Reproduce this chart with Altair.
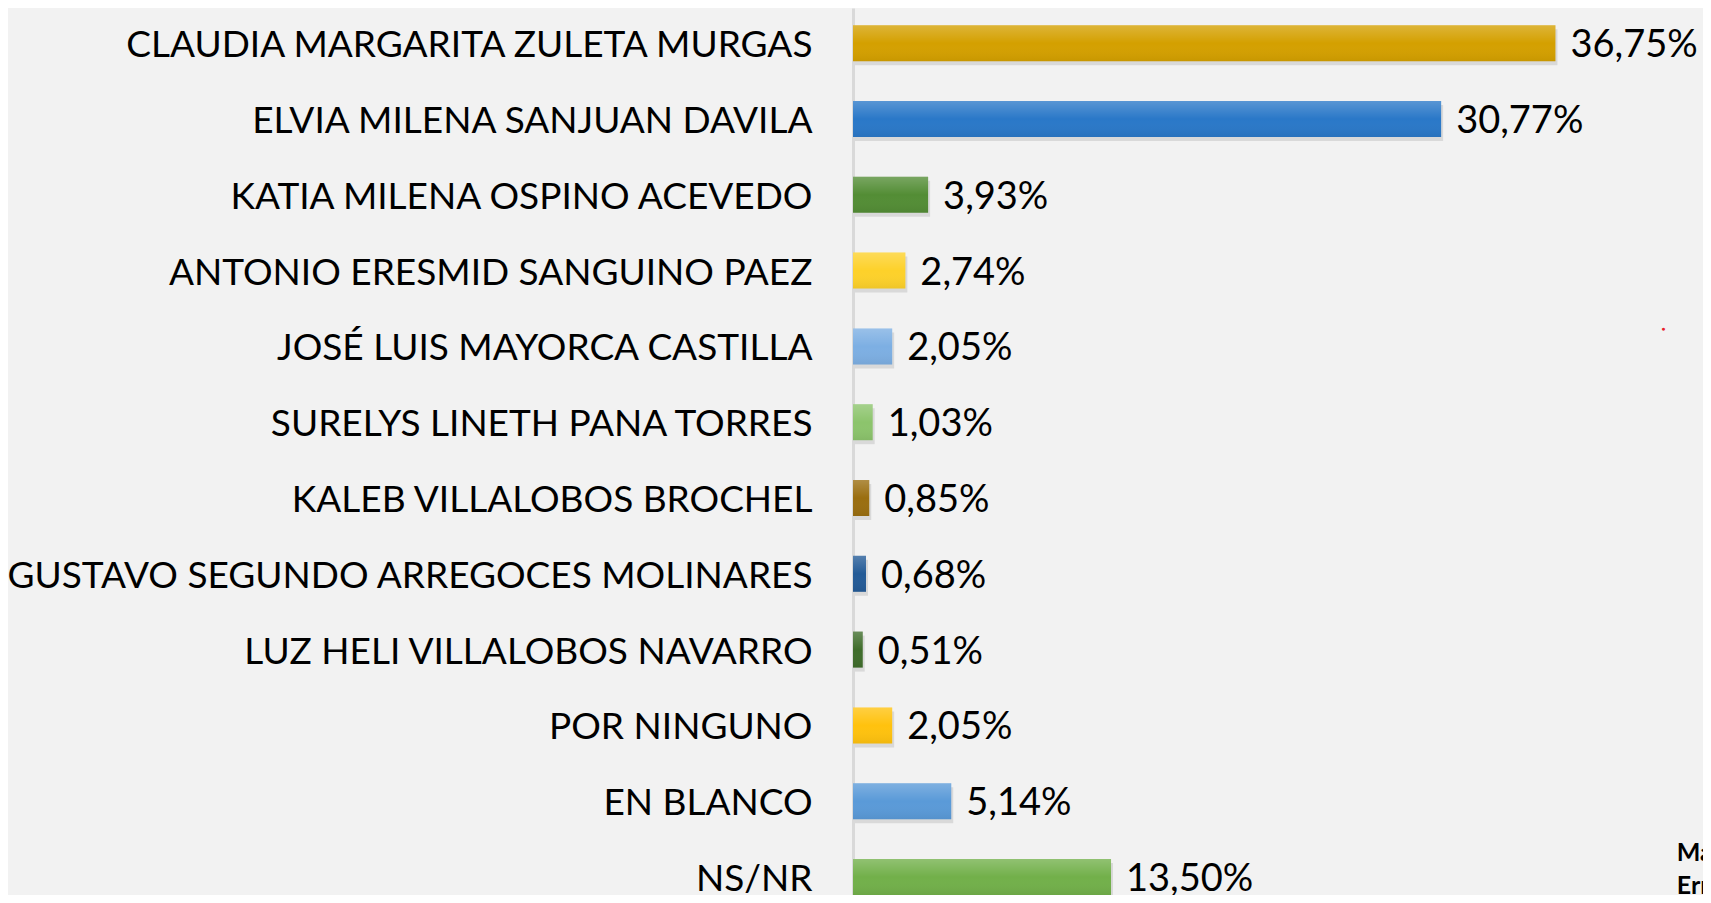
import altair as alt
import pandas as pd

candidates = [
    "CLAUDIA MARGARITA ZULETA MURGAS",
    "ELVIA MILENA SANJUAN DAVILA",
    "KATIA MILENA OSPINO ACEVEDO",
    "ANTONIO ERESMID SANGUINO PAEZ",
    "JOSÉ LUIS MAYORCA CASTILLA",
    "SURELYS LINETH PANA TORRES",
    "KALEB VILLALOBOS BROCHEL",
    "GUSTAVO SEGUNDO ARREGOCES MOLINARES",
    "LUZ HELI VILLALOBOS NAVARRO",
    "POR NINGUNO",
    "EN BLANCO",
    "NS/NR",
]
values = [36.75, 30.77, 3.93, 2.74, 2.05, 1.03, 0.85, 0.68, 0.51, 2.05, 5.14, 13.50]
colors = [
    "#D4A000", "#2A78C8", "#538D35", "#FDD12A", "#7DAFE3", "#8CC46C",
    "#9A6E10", "#245B97", "#3F6D2B", "#FFC20E", "#5A9AD8", "#72B04A",
]
note_lines = ["Margen de error", "Error estándar"]

df = pd.DataFrame({"candidato": candidates, "pct": values, "color": colors})

FONT = "Lato"

y_enc = alt.Y(
    "candidato:N",
    sort=candidates,
    title=None,
    scale=alt.Scale(paddingInner=0.525, paddingOuter=0.1135, align=1),
    axis=alt.Axis(
        ticks=False,
        labelPadding=41,
        labelOffset=3,
        labelLimit=0,
        labelFontSize=37,
        labelFont=FONT,
        labelColor="black",
        domainColor="#D9D9D9",
        domainWidth=3,
        grid=False,
    ),
)
x_enc = alt.X("pct:Q", scale=alt.Scale(domain=[0, 44], nice=False, zero=True), axis=None)
y_plain = alt.Y("candidato:N", sort=candidates)

base = alt.Chart(df)

shadow = base.mark_bar(color="rgba(0,0,0,0.10)", yOffset=4, xOffset=2).encode(x=x_enc, y=y_enc)

bars = base.mark_bar().encode(
    x=x_enc, y=y_plain, color=alt.Color("color:N", scale=None)
)

shine = base.mark_bar(
    color=alt.Gradient(
        gradient="linear", x1=0, y1=0, x2=0, y2=1,
        stops=[
            alt.GradientStop(color="rgba(255,255,255,0.22)", offset=0),
            alt.GradientStop(color="rgba(255,255,255,0.0)", offset=0.5),
            alt.GradientStop(color="rgba(0,0,0,0.06)", offset=1),
        ],
    )
).encode(x="pct:Q", y=y_plain)

labels = base.transform_calculate(
    label="replace(format(datum.pct, '.2f'), '.', ',') + '%'"
).mark_text(
    align="left", baseline="middle", dx=15, dy=3, fontSize=38, font=FONT, color="black"
).encode(x="pct:Q", y=y_plain, text="label:N")

dot_df = pd.DataFrame({"candidato": ["JOSÉ LUIS MAYORCA CASTILLA"], "pct": [42.4]})
dot = alt.Chart(dot_df).mark_text(
    text="●", fontSize=7, color="#E8202A", dy=-17, align="center", baseline="middle"
).encode(x="pct:Q", y=y_plain)

note_df = pd.DataFrame({"candidato": ["NS/NR"], "pct": [43.1]})
note = alt.Chart(note_df).mark_text(
    text=note_lines, fontSize=25, fontWeight="bold", font=FONT, color="black",
    align="left", baseline="alphabetic", dy=-16, lineHeight=33,
).encode(x="pct:Q", y=y_plain)

chart = (
    alt.layer(shadow, bars, shine, labels, dot, note)
    .properties(
        width=841,
        height=887,
        autosize=alt.AutoSizeParams(type="none"),
        padding={"left": 845, "top": 0, "right": 9, "bottom": 0},
        background="#F2F2F2",
    )
    .configure_view(stroke=None)
)

chart.save("out.html", embed_options={"renderer": "svg", "actions": False})
